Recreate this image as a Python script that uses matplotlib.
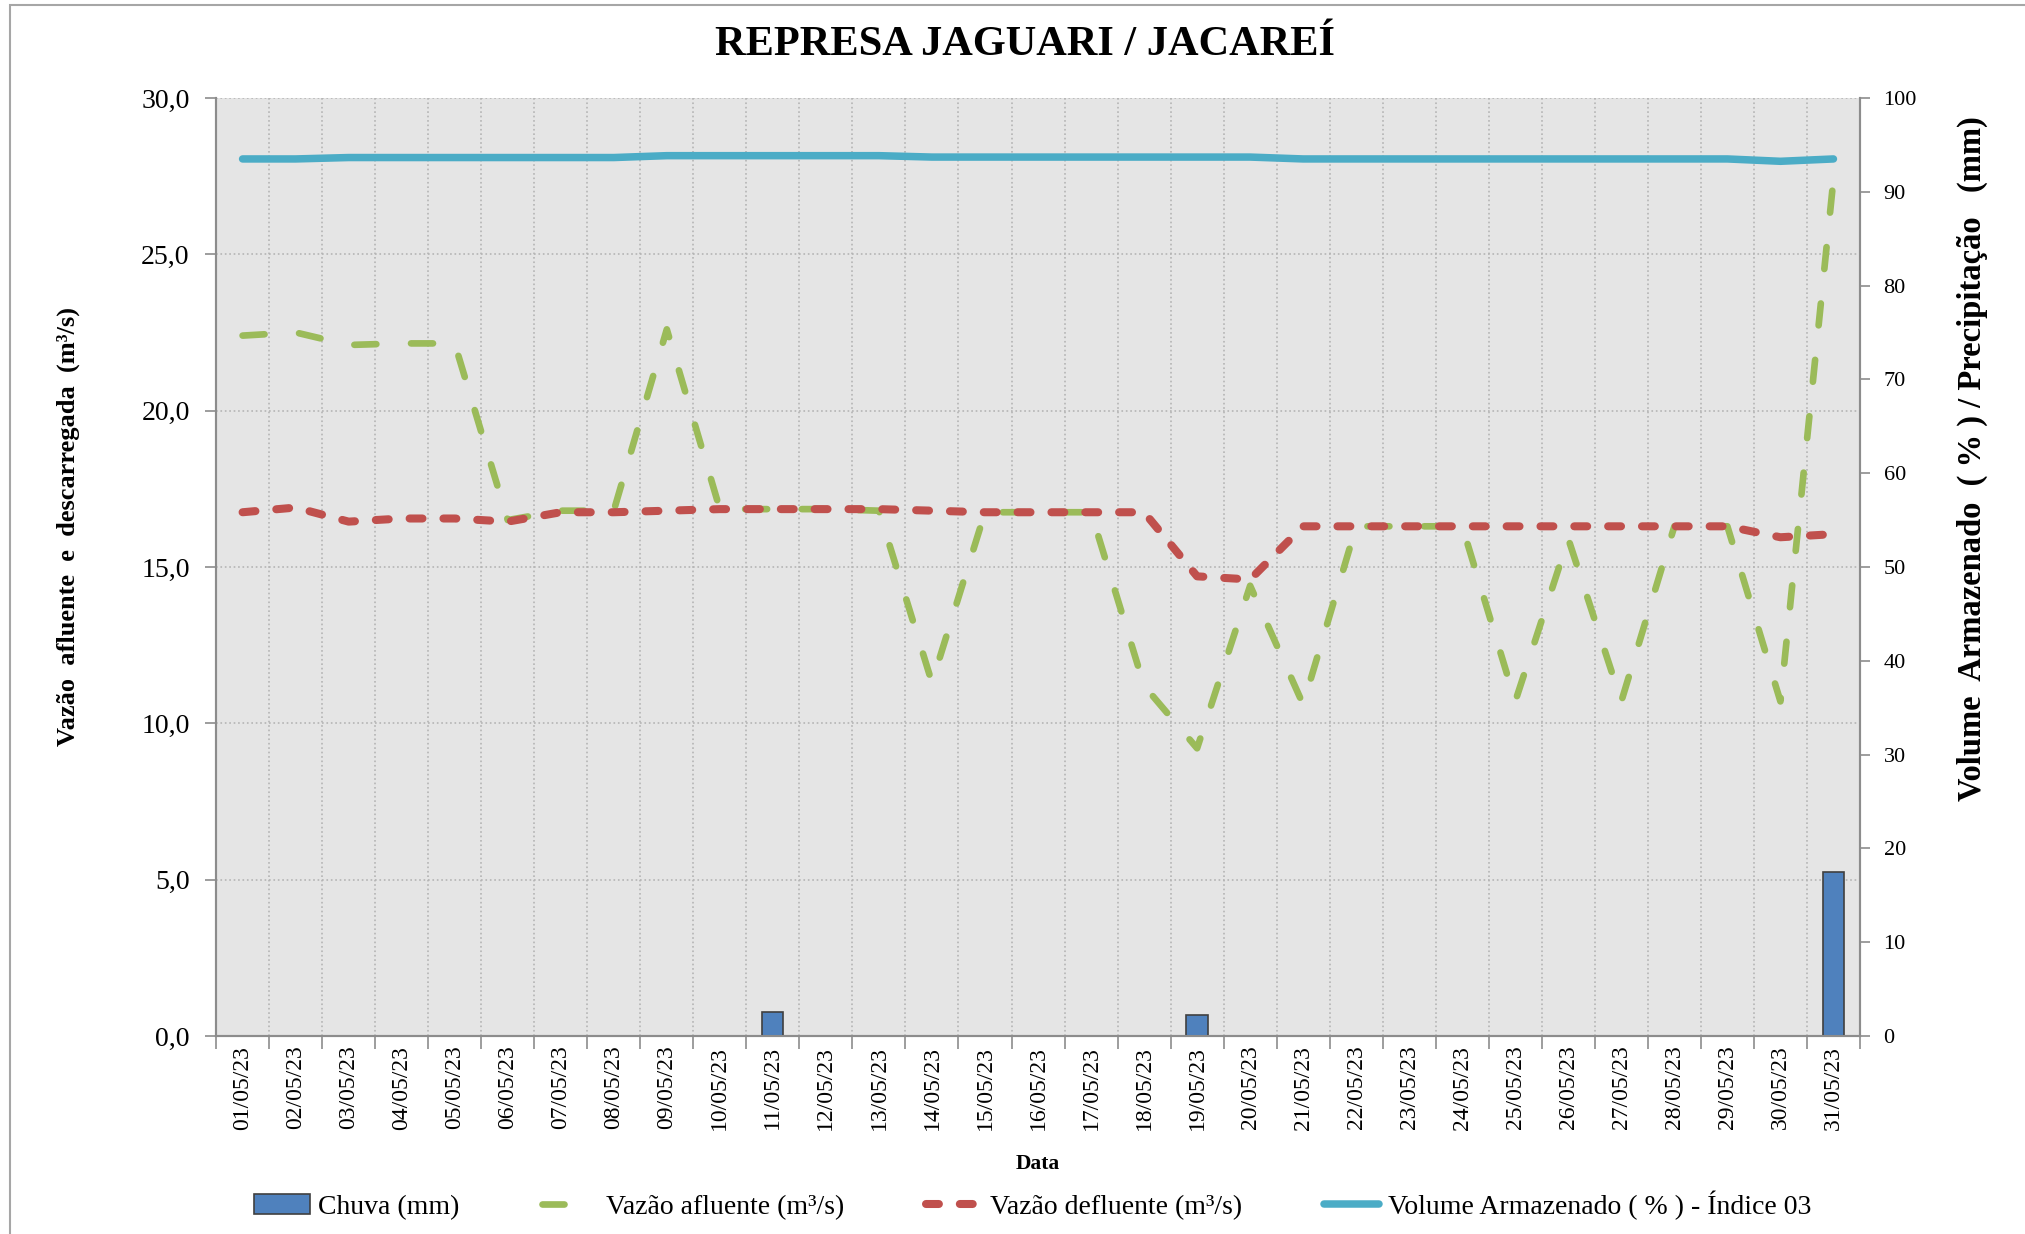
import numpy as np
import matplotlib.pyplot as plt
from matplotlib.patches import Rectangle
from matplotlib.lines import Line2D

plt.rcParams['font.family'] = ['Liberation Serif', 'DejaVu Serif']

# dados diários - maio/2023
datas = ["01/05/23", "02/05/23", "03/05/23", "04/05/23", "05/05/23", "06/05/23",
         "07/05/23", "08/05/23", "09/05/23", "10/05/23", "11/05/23", "12/05/23",
         "13/05/23", "14/05/23", "15/05/23", "16/05/23", "17/05/23", "18/05/23",
         "19/05/23", "20/05/23", "21/05/23", "22/05/23", "23/05/23", "24/05/23",
         "25/05/23", "26/05/23", "27/05/23", "28/05/23", "29/05/23", "30/05/23",
         "31/05/23"]

chuva = [0, 0, 0, 0, 0, 0, 0, 0, 0, 0, 2.5, 0, 0, 0, 0, 0, 0, 0, 2.2, 0,
         0, 0, 0, 0, 0, 0, 0, 0, 0, 0, 17.5]

afluente = [22.4, 22.5, 22.1, 22.15, 22.15, 16.5, 16.8, 16.8, 22.6, 16.85,
            16.85, 16.85, 16.8, 11.3, 16.75, 16.75, 16.75, 11.2, 9.2, 14.4,
            10.6, 16.3, 16.3, 16.3, 10.7, 15.9, 10.7, 16.3, 16.3, 10.7, 27.4]

defluente = [16.75, 16.9, 16.45, 16.55, 16.55, 16.45, 16.75, 16.75, 16.8, 16.85,
             16.85, 16.85, 16.85, 16.8, 16.75, 16.75, 16.75, 16.75, 14.7, 14.6,
             16.3, 16.3, 16.3, 16.3, 16.3, 16.3, 16.3, 16.3, 16.3, 15.95, 16.05]

volume = [93.5, 93.5, 93.65, 93.65, 93.65, 93.65, 93.65, 93.65, 93.85, 93.85,
          93.85, 93.85, 93.85, 93.7, 93.7, 93.7, 93.7, 93.7, 93.7, 93.7,
          93.5, 93.5, 93.5, 93.5, 93.5, 93.5, 93.5, 93.5, 93.5, 93.25, 93.5]

x = np.arange(len(datas))
cinza = '#8C8C8C'

fig = plt.figure(figsize=(20.25, 12.34), dpi=100)
ax1 = fig.add_axes([0.1067, 0.1605, 0.8118, 0.7601])
ax2 = ax1.twinx()

ax1.set_facecolor('#E5E5E5')
ax1.set_axisbelow(True)

# vazões (eixo esquerdo)
ax1.plot(x, afluente, color='#9BBB59', lw=4.8, linestyle=(0, (3.3, 5.2)),
         dash_capstyle='round', zorder=3)
ax1.plot(x, defluente, color='#C0504D', lw=5.8, linestyle=(0, (1.6, 2.6)),
         dash_capstyle='round', zorder=4)

# chuva e volume (eixo direito)
ax2.bar(x, chuva, width=0.4, color='#4F81BD', edgecolor='#404040', lw=1.2, zorder=2)
ax2.plot(x, volume, color='#4BACC6', lw=5.4, solid_capstyle='round', zorder=3)

ax1.set_xlim(-0.5, len(datas) - 0.5)
ax1.set_ylim(0, 30)
ax2.set_ylim(0, 100)

# eixo x: rótulos no centro, marcas e grade nas divisões
ax1.set_xticks(x)
ax1.set_xticklabels(datas, rotation=90, fontsize=17)
ax1.set_xticks(np.arange(-0.5, len(datas), 1), minor=True)
ax1.tick_params(axis='x', which='major', length=0, pad=7)
ax1.tick_params(axis='x', which='minor', length=9, color=cinza, width=1.2)

yt = np.arange(0, 31, 5)
ax1.set_yticks(yt)
ax1.set_yticklabels([f"{v:.1f}".replace('.', ',') for v in yt], fontsize=20)
ax1.tick_params(axis='y', length=8, color=cinza, width=1.2, pad=11)

yt2 = np.arange(0, 101, 10)
ax2.set_yticks(yt2)
ax2.set_yticklabels([str(v) for v in yt2], fontsize=16)
ax2.tick_params(axis='y', length=7, color=cinza, width=1.2, pad=10)

ax1.grid(axis='y', which='major', linestyle=':', color='#B4B4B4', lw=1.2)
ax1.grid(axis='x', which='minor', linestyle=':', color='#B4B4B4', lw=1.2)

for ax in (ax1, ax2):
    ax.spines['top'].set_visible(False)
    for s in ('left', 'right', 'bottom'):
        ax.spines[s].set_color(cinza)
        ax.spines[s].set_linewidth(1.5)

ax1.set_ylabel("Vazão  afluente  e  descarregada  (m³/s)", fontsize=19,
               fontweight='bold')
ax1.yaxis.set_label_coords(-0.0827, 0.543)
ax2.set_ylabel("Volume  Armazenado  ( % ) / Precipitação   (mm)", fontsize=23.5,
               fontweight='bold')
ax2.yaxis.set_label_coords(1.059, 0.6157)

fig.text(0.506, 0.9635, "REPRESA JAGUARI / JACAREÍ", fontsize=30.5,
         fontweight='bold', ha='center', va='center')
fig.text(0.5126, 0.0567, "Data", fontsize=15.5, fontweight='bold',
         ha='center', va='center')

handles = [
    Rectangle((0, 0), 1, 1, facecolor='#4F81BD', edgecolor='#404040', lw=1.2),
    Line2D([], [], color='#9BBB59', lw=4.8, linestyle=(0, (3.3, 5.2)),
           dash_capstyle='round'),
    Line2D([], [], color='#C0504D', lw=5.8, linestyle=(0, (1.6, 2.6)),
           dash_capstyle='round'),
    Line2D([], [], color='#4BACC6', lw=5.4, solid_capstyle='round'),
]
labels = ["Chuva (mm)", "Vazão afluente (m³/s)", "Vazão defluente (m³/s)",
          "Volume Armazenado ( % ) - Índice 03"]
fig.legend(handles, labels, loc='center', bbox_to_anchor=(0.51, 0.0235), ncol=4,
           frameon=False, fontsize=20, columnspacing=2.95, handletextpad=0.3,
           handlelength=2.0)

# moldura da figura
fig.patches.append(Rectangle((10 / 2025, -0.1), 1.2, 0.996 + 0.1,
                             transform=fig.transFigure, fill=False,
                             edgecolor='#A6A6A6', lw=1.5))

fig.savefig('out.png', dpi=100)
